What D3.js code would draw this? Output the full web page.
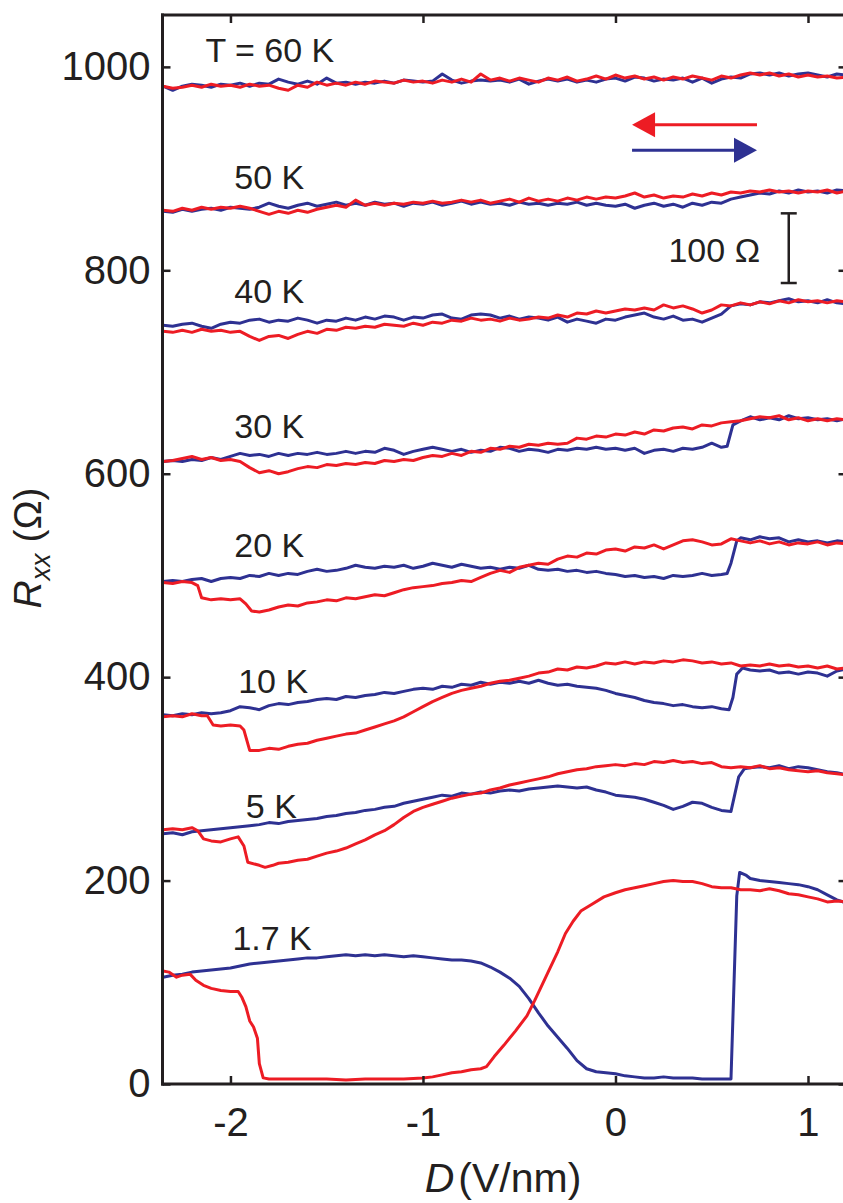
<!DOCTYPE html>
<html><head><meta charset="utf-8">
<script src="https://cdn.jsdelivr.net/npm/d3@7"></script>
<style>html,body{margin:0;padding:0;background:#fff;}svg{display:block;}</style>
</head><body>
<svg id="chart" width="843" height="1203"></svg>
<script>
// ---------------- DATA ----------------
const xTicks = [-2, -1, 0, 1];
const yTicks = [0, 200, 400, 600, 800, 1000];
const tempLabels = ["T = 60 K", "50 K", "40 K", "30 K", "20 K", "10 K", "5 K", "1.7 K"];
const scaleBarLabel = "100 Ω";
const scaleBarRange = [787.5, 856];

const blue60 = [[-2.35,981],[-2.30,977],[-2.25,981],[-2.20,983],[-2.15,982],[-2.10,980],[-2.05,983],[-2.00,982],[-1.95,984],[-1.90,981],[-1.85,984],[-1.80,983],[-1.75,988],[-1.70,985],[-1.65,983],[-1.60,986],[-1.55,983],[-1.50,989],[-1.45,984],[-1.40,985],[-1.35,983],[-1.30,985],[-1.25,984],[-1.20,986],[-1.15,984],[-1.10,987],[-1.05,986],[-1.00,985],[-0.95,986],[-0.90,993],[-0.85,987],[-0.80,984],[-0.75,986],[-0.70,987],[-0.65,986],[-0.60,987],[-0.55,985],[-0.50,988],[-0.45,983],[-0.40,986],[-0.35,988],[-0.30,986],[-0.25,988],[-0.20,985],[-0.15,987],[-0.10,985],[-0.05,988],[0.00,989],[0.05,986],[0.10,990],[0.15,989],[0.20,986],[0.25,988],[0.30,987],[0.35,989],[0.40,985],[0.45,989],[0.50,984],[0.55,988],[0.60,990],[0.65,989],[0.70,993],[0.75,994],[0.80,992],[0.85,994],[0.90,991],[0.95,993],[1.00,994],[1.05,992],[1.10,990],[1.15,993],[1.20,992]];
const red60 = [[-2.35,981],[-2.30,979],[-2.25,980],[-2.20,982],[-2.15,980],[-2.10,983],[-2.05,981],[-2.00,982],[-1.95,980],[-1.90,983],[-1.85,981],[-1.80,982],[-1.75,979],[-1.70,977],[-1.65,982],[-1.60,980],[-1.55,985],[-1.50,982],[-1.45,984],[-1.40,982],[-1.35,985],[-1.30,983],[-1.25,986],[-1.20,985],[-1.15,984],[-1.10,987],[-1.05,985],[-1.00,986],[-0.95,984],[-0.90,987],[-0.85,985],[-0.80,988],[-0.75,985],[-0.70,993],[-0.65,987],[-0.60,989],[-0.55,986],[-0.50,989],[-0.45,987],[-0.40,985],[-0.35,989],[-0.30,987],[-0.25,990],[-0.20,986],[-0.15,988],[-0.10,991],[-0.05,988],[0.00,992],[0.05,989],[0.10,991],[0.15,988],[0.20,990],[0.25,987],[0.30,990],[0.35,988],[0.40,991],[0.45,989],[0.50,987],[0.55,991],[0.60,989],[0.65,992],[0.70,994],[0.75,992],[0.80,994],[0.85,991],[0.90,993],[0.95,990],[1.00,992],[1.05,990],[1.10,991],[1.15,989],[1.20,990]];

const blue50 = [[-2.35,858],[-2.30,857],[-2.25,860],[-2.20,858],[-2.15,860],[-2.10,861],[-2.05,859],[-2.00,862],[-1.95,861],[-1.90,860],[-1.85,862],[-1.80,866],[-1.75,863],[-1.70,861],[-1.65,864],[-1.60,866],[-1.55,863],[-1.50,865],[-1.45,867],[-1.40,864],[-1.35,866],[-1.30,864],[-1.25,867],[-1.20,865],[-1.15,866],[-1.10,863],[-1.05,866],[-1.00,865],[-0.95,867],[-0.90,864],[-0.85,866],[-0.80,868],[-0.75,865],[-0.70,867],[-0.65,865],[-0.60,866],[-0.55,864],[-0.50,867],[-0.45,865],[-0.40,866],[-0.35,864],[-0.30,866],[-0.25,865],[-0.20,867],[-0.15,864],[-0.10,866],[-0.05,864],[0.00,863],[0.05,865],[0.10,861],[0.15,864],[0.20,866],[0.25,863],[0.30,865],[0.35,862],[0.40,866],[0.45,864],[0.50,867],[0.55,866],[0.60,870],[0.65,872],[0.70,874],[0.75,876],[0.80,875],[0.85,878],[0.90,876],[0.95,879],[1.00,877],[1.05,878],[1.10,876],[1.15,879],[1.20,878]];
const red50 = [[-2.35,859],[-2.30,858],[-2.25,861],[-2.20,859],[-2.15,862],[-2.10,860],[-2.05,862],[-2.00,861],[-1.95,863],[-1.90,861],[-1.85,858],[-1.80,855],[-1.75,858],[-1.70,856],[-1.65,859],[-1.60,857],[-1.55,860],[-1.50,862],[-1.45,864],[-1.40,862],[-1.35,869],[-1.30,864],[-1.25,866],[-1.20,864],[-1.15,866],[-1.10,865],[-1.05,867],[-1.00,866],[-0.95,868],[-0.90,866],[-0.85,867],[-0.80,869],[-0.75,867],[-0.70,869],[-0.65,866],[-0.60,868],[-0.55,870],[-0.50,867],[-0.45,871],[-0.40,868],[-0.35,870],[-0.30,868],[-0.25,871],[-0.20,869],[-0.15,872],[-0.10,870],[-0.05,872],[0.00,871],[0.05,873],[0.10,876],[0.15,872],[0.20,874],[0.25,871],[0.30,873],[0.35,872],[0.40,875],[0.45,873],[0.50,876],[0.55,874],[0.60,877],[0.65,876],[0.70,878],[0.75,877],[0.80,879],[0.85,877],[0.90,878],[0.95,876],[1.00,878],[1.05,877],[1.10,879],[1.15,876],[1.20,878]];

const blue40 = [[-2.35,746],[-2.30,745],[-2.25,747],[-2.20,748],[-2.15,745],[-2.10,743],[-2.05,747],[-2.00,749],[-1.95,748],[-1.90,751],[-1.85,752],[-1.80,749],[-1.75,751],[-1.70,750],[-1.65,753],[-1.60,751],[-1.55,748],[-1.50,751],[-1.45,750],[-1.40,753],[-1.35,751],[-1.30,754],[-1.25,752],[-1.20,755],[-1.15,754],[-1.10,751],[-1.05,754],[-1.00,753],[-0.95,756],[-0.90,757],[-0.85,753],[-0.80,752],[-0.75,756],[-0.70,757],[-0.65,756],[-0.60,753],[-0.55,755],[-0.50,752],[-0.45,754],[-0.40,753],[-0.35,751],[-0.30,754],[-0.25,749],[-0.20,752],[-0.15,750],[-0.10,748],[-0.05,752],[0.00,751],[0.05,754],[0.10,756],[0.15,758],[0.20,754],[0.25,752],[0.30,755],[0.35,751],[0.40,752],[0.45,749],[0.50,753],[0.55,757],[0.60,765],[0.65,767],[0.70,766],[0.75,769],[0.80,768],[0.85,770],[0.90,772],[0.95,769],[1.00,770],[1.05,768],[1.10,771],[1.15,768],[1.20,767]];
const red40 = [[-2.35,740],[-2.30,739],[-2.25,741],[-2.20,739],[-2.15,742],[-2.10,740],[-2.05,741],[-2.00,739],[-1.95,740],[-1.90,735],[-1.85,731],[-1.80,735],[-1.75,736],[-1.70,733],[-1.65,737],[-1.60,740],[-1.55,738],[-1.50,742],[-1.45,741],[-1.40,744],[-1.35,743],[-1.30,745],[-1.25,744],[-1.20,747],[-1.15,746],[-1.10,745],[-1.05,748],[-1.00,746],[-0.95,749],[-0.90,748],[-0.85,751],[-0.80,750],[-0.75,753],[-0.70,751],[-0.65,752],[-0.60,750],[-0.55,753],[-0.50,751],[-0.45,752],[-0.40,754],[-0.35,753],[-0.30,756],[-0.25,754],[-0.20,758],[-0.15,757],[-0.10,760],[-0.05,758],[0.00,760],[0.05,762],[0.10,761],[0.15,763],[0.20,761],[0.25,766],[0.30,763],[0.35,765],[0.40,762],[0.45,758],[0.50,761],[0.55,766],[0.60,765],[0.65,768],[0.70,766],[0.75,769],[0.80,767],[0.85,770],[0.90,768],[0.95,771],[1.00,769],[1.05,770],[1.10,768],[1.15,770],[1.20,769]];

const blue30 = [[-2.35,612],[-2.30,613],[-2.25,612],[-2.20,614],[-2.15,613],[-2.10,616],[-2.05,614],[-2.00,617],[-1.95,620],[-1.90,618],[-1.85,619],[-1.80,617],[-1.75,620],[-1.70,618],[-1.65,620],[-1.60,619],[-1.55,621],[-1.50,619],[-1.45,620],[-1.40,622],[-1.35,620],[-1.30,622],[-1.25,621],[-1.20,625],[-1.15,623],[-1.10,619],[-1.05,622],[-1.00,624],[-0.95,626],[-0.90,624],[-0.85,622],[-0.80,624],[-0.75,621],[-0.70,623],[-0.65,622],[-0.60,626],[-0.55,625],[-0.50,622],[-0.45,624],[-0.40,623],[-0.35,621],[-0.30,624],[-0.25,623],[-0.20,625],[-0.15,624],[-0.10,626],[-0.05,624],[0.00,625],[0.05,623],[0.10,625],[0.15,620],[0.20,623],[0.25,624],[0.30,622],[0.35,625],[0.40,624],[0.45,626],[0.50,630],[0.55,626],[0.58,627],[0.61,648],[0.65,652],[0.70,656],[0.75,653],[0.80,655],[0.85,653],[0.90,657],[0.95,654],[1.00,655],[1.05,653],[1.10,654],[1.15,652],[1.20,654]];
const red30 = [[-2.35,612],[-2.30,613],[-2.25,615],[-2.20,617],[-2.15,614],[-2.10,616],[-2.05,613],[-2.00,614],[-1.95,612],[-1.90,606],[-1.85,601],[-1.80,603],[-1.75,600],[-1.70,602],[-1.65,605],[-1.60,607],[-1.55,606],[-1.50,609],[-1.45,608],[-1.40,610],[-1.35,609],[-1.30,611],[-1.25,610],[-1.20,613],[-1.15,612],[-1.10,614],[-1.05,613],[-1.00,616],[-0.95,618],[-0.90,617],[-0.85,620],[-0.80,618],[-0.75,622],[-0.70,621],[-0.65,625],[-0.60,624],[-0.55,627],[-0.50,626],[-0.45,629],[-0.40,628],[-0.35,630],[-0.30,629],[-0.25,630],[-0.20,635],[-0.15,634],[-0.10,637],[-0.05,636],[0.00,639],[0.05,638],[0.10,641],[0.15,639],[0.20,643],[0.25,642],[0.30,645],[0.35,646],[0.40,644],[0.45,648],[0.50,647],[0.55,650],[0.60,651],[0.65,652],[0.70,654],[0.75,656],[0.80,655],[0.85,657],[0.90,653],[0.95,655],[1.00,652],[1.05,654],[1.10,652],[1.15,654],[1.20,653]];

const blue20 = [[-2.35,494],[-2.30,495],[-2.25,494],[-2.20,496],[-2.15,497],[-2.10,494],[-2.05,497],[-2.00,498],[-1.95,497],[-1.90,500],[-1.85,499],[-1.80,502],[-1.75,500],[-1.70,502],[-1.65,501],[-1.60,504],[-1.55,506],[-1.50,504],[-1.45,505],[-1.40,507],[-1.35,510],[-1.30,508],[-1.25,507],[-1.20,509],[-1.15,508],[-1.10,510],[-1.05,507],[-1.00,509],[-0.95,512],[-0.90,510],[-0.85,508],[-0.80,511],[-0.75,509],[-0.70,507],[-0.65,508],[-0.60,506],[-0.55,508],[-0.50,507],[-0.45,510],[-0.40,506],[-0.35,505],[-0.30,506],[-0.25,504],[-0.20,505],[-0.15,503],[-0.10,504],[-0.05,502],[0.00,501],[0.05,499],[0.10,500],[0.15,498],[0.20,499],[0.25,497],[0.30,500],[0.35,499],[0.40,500],[0.45,502],[0.50,500],[0.55,501],[0.58,502],[0.60,512],[0.63,534],[0.65,537],[0.70,535],[0.75,538],[0.80,536],[0.85,537],[0.90,533],[0.95,535],[1.00,533],[1.05,534],[1.10,532],[1.15,534],[1.20,533]];
const red20 = [[-2.35,493],[-2.30,492],[-2.25,494],[-2.20,493],[-2.17,490],[-2.15,478],[-2.10,476],[-2.05,477],[-2.00,476],[-1.95,477],[-1.92,472],[-1.89,465],[-1.85,464],[-1.80,466],[-1.75,469],[-1.70,471],[-1.65,470],[-1.60,473],[-1.55,474],[-1.50,476],[-1.45,475],[-1.40,478],[-1.35,477],[-1.30,479],[-1.25,481],[-1.20,480],[-1.15,483],[-1.10,486],[-1.05,488],[-1.00,489],[-0.95,490],[-0.90,492],[-0.85,493],[-0.80,495],[-0.75,494],[-0.70,498],[-0.65,502],[-0.60,505],[-0.55,503],[-0.50,508],[-0.45,510],[-0.40,512],[-0.35,511],[-0.30,516],[-0.25,519],[-0.20,518],[-0.15,522],[-0.10,521],[-0.05,525],[0.00,526],[0.05,524],[0.10,528],[0.15,527],[0.20,530],[0.25,526],[0.30,530],[0.35,534],[0.40,535],[0.45,533],[0.50,530],[0.55,531],[0.60,536],[0.65,534],[0.70,532],[0.75,534],[0.80,531],[0.85,533],[0.90,530],[0.95,532],[1.00,531],[1.05,533],[1.10,530],[1.15,532],[1.20,531]];

const blue10 = [[-2.35,363],[-2.30,362],[-2.25,364],[-2.20,363],[-2.15,365],[-2.10,364],[-2.05,365],[-2.00,367],[-1.95,371],[-1.90,370],[-1.85,368],[-1.80,372],[-1.75,374],[-1.70,373],[-1.65,375],[-1.60,376],[-1.55,378],[-1.50,379],[-1.45,378],[-1.40,381],[-1.35,380],[-1.30,382],[-1.25,383],[-1.20,385],[-1.15,384],[-1.10,386],[-1.05,388],[-1.00,389],[-0.95,388],[-0.90,391],[-0.85,390],[-0.80,393],[-0.75,392],[-0.70,395],[-0.65,393],[-0.60,395],[-0.55,394],[-0.50,396],[-0.45,394],[-0.40,397],[-0.35,394],[-0.30,392],[-0.25,393],[-0.20,391],[-0.15,390],[-0.10,389],[-0.05,387],[0.00,384],[0.05,382],[0.10,380],[0.15,377],[0.20,375],[0.25,374],[0.30,372],[0.35,373],[0.40,371],[0.45,370],[0.50,371],[0.55,369],[0.59,368],[0.61,380],[0.63,403],[0.66,409],[0.70,407],[0.75,406],[0.80,407],[0.85,404],[0.90,405],[0.95,403],[1.00,405],[1.05,404],[1.10,401],[1.15,406],[1.20,408]];
const red10 = [[-2.35,361],[-2.30,362],[-2.25,361],[-2.20,364],[-2.15,362],[-2.12,362],[-2.09,353],[-2.05,352],[-2.00,353],[-1.95,352],[-1.93,348],[-1.90,328],[-1.85,328],[-1.80,330],[-1.75,329],[-1.70,332],[-1.65,334],[-1.60,335],[-1.55,338],[-1.50,340],[-1.45,342],[-1.40,344],[-1.35,345],[-1.30,348],[-1.25,351],[-1.20,354],[-1.15,357],[-1.10,361],[-1.05,366],[-1.00,371],[-0.95,376],[-0.90,380],[-0.85,384],[-0.80,387],[-0.75,389],[-0.70,391],[-0.65,394],[-0.60,396],[-0.55,397],[-0.50,399],[-0.45,401],[-0.40,404],[-0.35,405],[-0.30,408],[-0.25,407],[-0.20,410],[-0.15,409],[-0.10,411],[-0.05,414],[0.00,413],[0.05,415],[0.10,413],[0.15,415],[0.20,414],[0.25,416],[0.30,415],[0.35,417],[0.40,416],[0.45,414],[0.50,415],[0.55,413],[0.60,414],[0.65,411],[0.70,412],[0.75,411],[0.80,413],[0.85,411],[0.90,412],[0.95,410],[1.00,411],[1.05,409],[1.10,411],[1.15,408],[1.20,409]];

const blue5 = [[-2.35,246],[-2.30,247],[-2.25,245],[-2.20,248],[-2.15,249],[-2.10,250],[-2.05,251],[-2.00,252],[-1.95,253],[-1.90,254],[-1.85,255],[-1.80,257],[-1.75,256],[-1.70,258],[-1.65,259],[-1.60,260],[-1.55,261],[-1.50,263],[-1.45,264],[-1.40,266],[-1.35,267],[-1.30,269],[-1.25,270],[-1.20,272],[-1.15,273],[-1.10,276],[-1.05,278],[-1.00,280],[-0.95,282],[-0.90,284],[-0.85,283],[-0.80,286],[-0.75,285],[-0.70,287],[-0.65,286],[-0.60,288],[-0.55,289],[-0.50,288],[-0.45,290],[-0.40,291],[-0.35,292],[-0.30,293],[-0.25,292],[-0.20,291],[-0.15,292],[-0.10,289],[-0.05,287],[0.00,284],[0.05,283],[0.10,282],[0.15,280],[0.20,277],[0.25,274],[0.30,270],[0.35,273],[0.40,277],[0.45,276],[0.50,272],[0.55,269],[0.60,268],[0.62,285],[0.64,302],[0.67,310],[0.70,311],[0.75,312],[0.80,311],[0.85,313],[0.90,310],[0.95,312],[1.00,311],[1.05,309],[1.10,307],[1.15,306],[1.20,304]];
const red5 = [[-2.35,250],[-2.30,251],[-2.25,250],[-2.20,252],[-2.17,249],[-2.14,241],[-2.10,239],[-2.05,238],[-2.00,241],[-1.96,243],[-1.93,234],[-1.91,218],[-1.85,215],[-1.82,213],[-1.78,215],[-1.75,217],[-1.70,218],[-1.65,220],[-1.60,221],[-1.55,224],[-1.50,227],[-1.45,229],[-1.40,232],[-1.35,236],[-1.30,240],[-1.25,245],[-1.20,249],[-1.15,255],[-1.10,262],[-1.05,268],[-1.00,272],[-0.95,275],[-0.90,278],[-0.85,281],[-0.80,283],[-0.75,285],[-0.70,286],[-0.65,289],[-0.60,291],[-0.55,294],[-0.50,296],[-0.45,298],[-0.40,300],[-0.35,302],[-0.30,305],[-0.25,307],[-0.20,309],[-0.15,310],[-0.10,312],[-0.05,313],[0.00,314],[0.05,313],[0.10,315],[0.15,314],[0.20,317],[0.25,316],[0.30,318],[0.35,316],[0.40,317],[0.45,315],[0.50,316],[0.55,312],[0.60,311],[0.65,312],[0.70,311],[0.75,313],[0.80,310],[0.85,311],[0.90,309],[0.95,308],[1.00,307],[1.05,308],[1.10,306],[1.15,305],[1.20,304]];

const blue17 = [[-2.35,105],[-2.30,107],[-2.25,108],[-2.20,110],[-2.15,111],[-2.10,112],[-2.05,113],[-2.00,114],[-1.95,116],[-1.90,118],[-1.85,119],[-1.80,120],[-1.75,121],[-1.70,122],[-1.65,123],[-1.60,124],[-1.55,124],[-1.50,125],[-1.45,126],[-1.40,127],[-1.35,126],[-1.30,127],[-1.25,126],[-1.20,127],[-1.15,126],[-1.10,125],[-1.05,126],[-1.00,125],[-0.95,124],[-0.90,123],[-0.85,122],[-0.80,122],[-0.75,121],[-0.70,119],[-0.65,115],[-0.60,110],[-0.55,104],[-0.50,96],[-0.45,84],[-0.40,70],[-0.35,57],[-0.30,46],[-0.25,35],[-0.20,23],[-0.15,15],[-0.10,12],[-0.05,11],[0.00,10],[0.05,8],[0.10,7],[0.15,6],[0.20,6],[0.25,7],[0.30,6],[0.35,6],[0.40,6],[0.45,5],[0.50,5],[0.55,5],[0.60,5],[0.63,185],[0.645,208],[0.68,205],[0.70,202],[0.75,200],[0.80,199],[0.85,198],[0.90,197],[0.95,196],[1.00,194],[1.05,191],[1.10,186],[1.15,181],[1.20,178]];
const red17 = [[-2.35,111],[-2.32,110],[-2.28,105],[-2.25,107],[-2.21,108],[-2.18,102],[-2.14,97],[-2.10,94],[-2.05,92],[-2.00,91],[-1.96,91],[-1.94,85],[-1.92,76],[-1.90,62],[-1.88,56],[-1.86,45],[-1.85,20],[-1.83,6],[-1.80,5],[-1.70,5],[-1.60,5],[-1.50,5],[-1.40,4],[-1.30,5],[-1.20,5],[-1.10,5],[-1.00,6],[-0.95,7],[-0.90,9],[-0.85,11],[-0.80,12],[-0.75,14],[-0.70,15],[-0.67,17],[-0.63,27],[-0.58,38],[-0.52,52],[-0.46,67],[-0.42,82],[-0.38,98],[-0.35,110],[-0.30,130],[-0.26,148],[-0.22,160],[-0.18,170],[-0.12,177],[-0.06,184],[0.00,188],[0.05,191],[0.10,193],[0.15,195],[0.20,197],[0.25,199],[0.30,200],[0.35,199],[0.40,199],[0.45,197],[0.50,194],[0.55,193],[0.60,193],[0.65,191],[0.70,191],[0.75,190],[0.80,192],[0.85,190],[0.90,187],[0.95,186],[1.00,184],[1.05,182],[1.10,179],[1.15,180],[1.20,179]];

const blueSweeps = [blue60, blue50, blue40, blue30, blue20, blue10, blue5, blue17];
const redSweeps  = [red60, red50, red40, red30, red20, red10, red5, red17];

// ---------------- LAYOUT ----------------
const W = 843, H = 1203;
const M = {left: 162.5, right: 846.5, top: 15, bottom: 1084};
const labelD = [-2.13, -1.98, -1.98, -1.98, -1.98, -1.96, -1.92, -1.99];
const labelR = [1005, 880, 768, 635, 518, 384, 262, 132];
const RED = "#ED1C24", BLUE = "#2E3192";
const FONT = "'Liberation Sans', Arial, Helvetica, sans-serif";

const svg = d3.select("#chart");
svg.append("rect").attr("width", W).attr("height", H).attr("fill", "#fff");

const x = d3.scaleLinear().domain([-2.353, 1.2]).range([M.left, M.right]);
const y = d3.scaleLinear().domain([0, 1051]).range([M.bottom, M.top]);

svg.append("defs").append("clipPath").attr("id", "clip")
  .append("rect").attr("x", M.left).attr("y", M.top)
  .attr("width", M.right - M.left).attr("height", M.bottom - M.top);

const line = d3.line().x(d => x(d[0])).y(d => y(d[1]));
const plot = svg.append("g").attr("clip-path", "url(#clip)");

blueSweeps.forEach(s => plot.append("path").datum(s).attr("d", line)
  .attr("fill", "none").attr("stroke", BLUE).attr("stroke-width", 3).attr("stroke-linejoin", "round"));
redSweeps.forEach(s => plot.append("path").datum(s).attr("d", line)
  .attr("fill", "none").attr("stroke", RED).attr("stroke-width", 3).attr("stroke-linejoin", "round"));

// axes
const tickLen = 8;
function styleAxis(g) {
  g.select(".domain").remove();
  g.selectAll(".tick line").attr("stroke", "#231F20").attr("stroke-width", 2.5);
  g.selectAll(".tick text").attr("fill", "#231F20").style("font-family", FONT).style("font-size", "40px");
}
const fmt = d => (d < 0 ? "-" + Math.abs(d) : "" + d);

svg.append("g").attr("transform", `translate(0,${M.bottom})`)
  .call(d3.axisBottom(x).tickValues(xTicks).tickSizeInner(-tickLen).tickSizeOuter(0).tickPadding(24).tickFormat(fmt))
  .call(styleAxis);
svg.append("g").attr("transform", `translate(0,${M.top})`)
  .call(d3.axisTop(x).tickValues(xTicks).tickSizeInner(-tickLen).tickSizeOuter(0).tickFormat(""))
  .call(styleAxis);
svg.append("g").attr("transform", `translate(${M.left},0)`)
  .call(d3.axisLeft(y).tickValues(yTicks).tickSizeInner(-tickLen).tickSizeOuter(0).tickPadding(12).tickFormat(d3.format("d")))
  .call(styleAxis);
svg.append("g").attr("transform", `translate(${M.right},0)`)
  .call(d3.axisRight(y).tickValues(yTicks).tickSizeInner(-tickLen).tickSizeOuter(0).tickFormat(""))
  .call(styleAxis);

// frame lines
const frame = svg.append("g").attr("stroke", "#231F20").attr("stroke-width", 3).attr("stroke-linecap", "square");
frame.append("line").attr("x1", M.left).attr("x2", M.left).attr("y1", M.top).attr("y2", M.bottom);
frame.append("line").attr("x1", M.left).attr("x2", M.right).attr("y1", M.bottom).attr("y2", M.bottom);
frame.append("line").attr("x1", M.left).attr("x2", M.right).attr("y1", M.top).attr("y2", M.top);
frame.append("line").attr("x1", M.right).attr("x2", M.right).attr("y1", M.top).attr("y2", M.bottom);

// axis titles
const xt = svg.append("text").attr("x", 503).attr("y", 1192).attr("text-anchor", "middle")
  .style("font-family", FONT).style("font-size", "41px").attr("fill", "#231F20");
xt.append("tspan").style("font-style", "italic").text("D");
xt.append("tspan").attr("dx", 4).text("(V/nm)");

const yt = svg.append("text").attr("transform", "translate(41,548) rotate(-90)").attr("text-anchor", "middle")
  .style("font-family", FONT).style("font-size", "39px").attr("fill", "#231F20");
yt.append("tspan").style("font-style", "italic").text("R");
yt.append("tspan").style("font-style", "italic").style("font-size", "27px").attr("dy", 9).text("xx");
yt.append("tspan").attr("dy", -9).text(" (Ω)");

// temperature labels
tempLabels.forEach((t, i) => {
  svg.append("text").attr("x", x(labelD[i])).attr("y", y(labelR[i]))
    .style("font-family", FONT).style("font-size", "34px").attr("fill", "#231F20").text(t);
});

// sweep direction arrows
const arrowR = 943, arrowB = 918, aFrom = 0.735, aTo = 0.086;
const headL = 23, headH = 12.5;
svg.append("line").attr("x1", x(aFrom)).attr("x2", x(aTo) + headL).attr("y1", y(arrowR)).attr("y2", y(arrowR))
  .attr("stroke", RED).attr("stroke-width", 3);
svg.append("path").attr("fill", RED)
  .attr("d", `M${x(aTo)},${y(arrowR)} L${x(aTo) + headL},${y(arrowR) - headH} L${x(aTo) + headL},${y(arrowR) + headH} Z`);
svg.append("line").attr("x1", x(aTo)).attr("x2", x(aFrom) - headL).attr("y1", y(arrowB)).attr("y2", y(arrowB))
  .attr("stroke", BLUE).attr("stroke-width", 3);
svg.append("path").attr("fill", BLUE)
  .attr("d", `M${x(aFrom)},${y(arrowB)} L${x(aFrom) - headL},${y(arrowB) - headH} L${x(aFrom) - headL},${y(arrowB) + headH} Z`);

// scale bar
const sbX = x(0.9), cap = 8;
const sb = svg.append("g").attr("stroke", "#231F20").attr("stroke-width", 2.5);
sb.append("line").attr("x1", sbX).attr("x2", sbX).attr("y1", y(scaleBarRange[0])).attr("y2", y(scaleBarRange[1]));
sb.append("line").attr("x1", sbX - cap).attr("x2", sbX + cap).attr("y1", y(scaleBarRange[0])).attr("y2", y(scaleBarRange[0]));
sb.append("line").attr("x1", sbX - cap).attr("x2", sbX + cap).attr("y1", y(scaleBarRange[1])).attr("y2", y(scaleBarRange[1]));
svg.append("text").attr("x", x(0.751)).attr("y", y(808)).attr("text-anchor", "end")
  .style("font-family", FONT).style("font-size", "34px").attr("fill", "#231F20").text(scaleBarLabel);
</script>
</body></html>
